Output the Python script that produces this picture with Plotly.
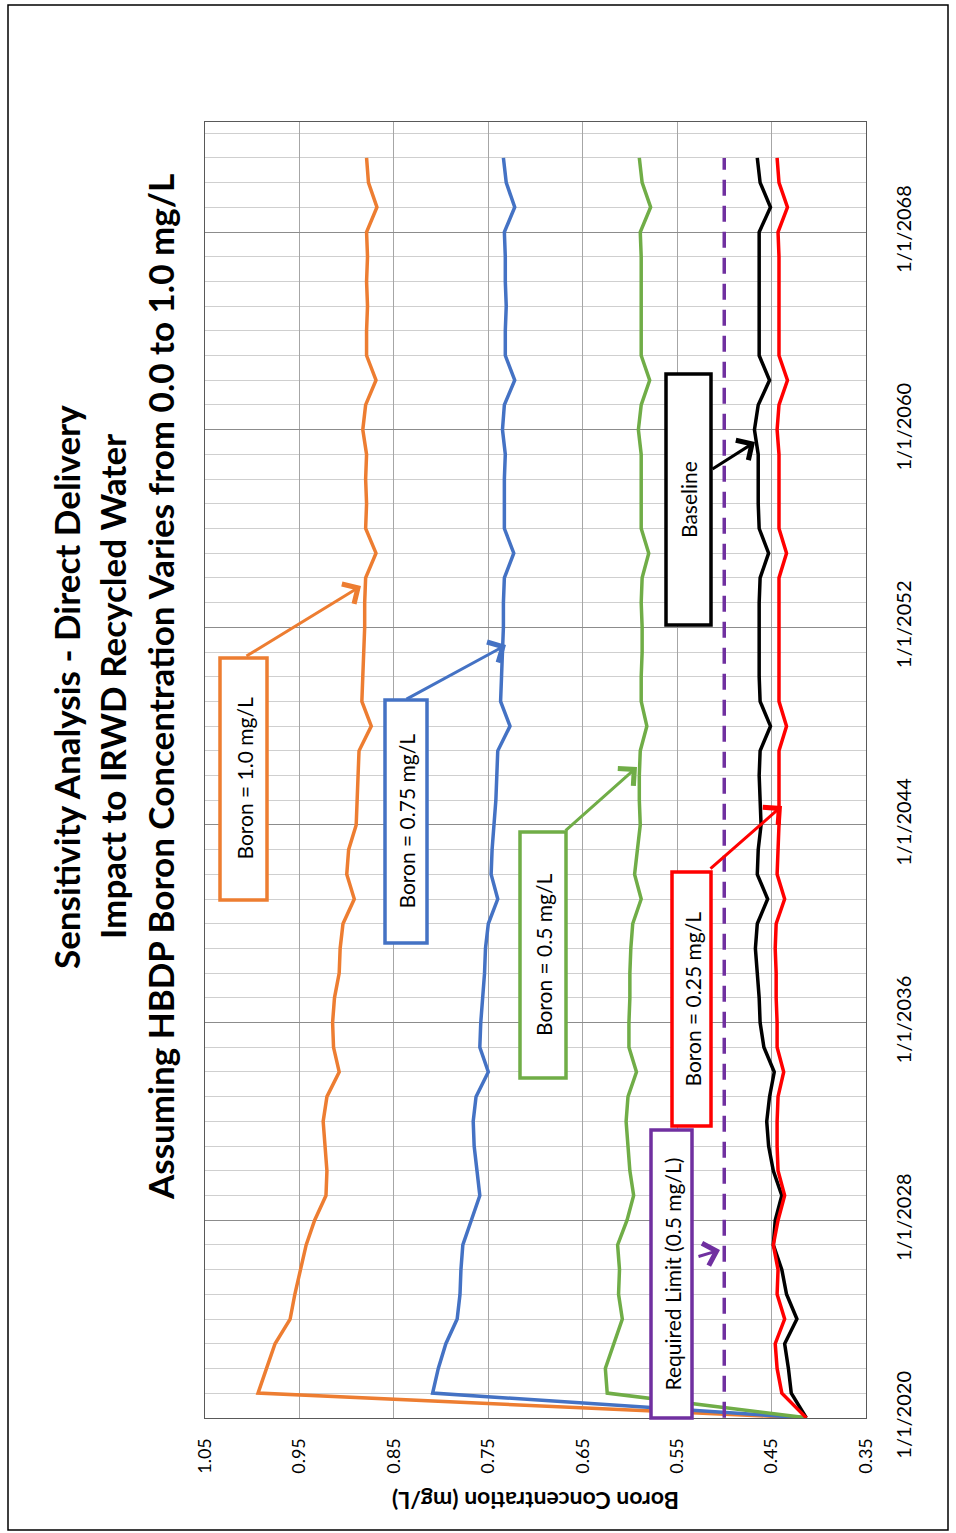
import plotly.graph_objects as go

# ---------------- data ----------------
years = list(range(2020, 2072))
dates = [f"{y}-01-01" for y in years]

boron_100 = [0.413, 0.994, 0.985, 0.976, 0.960, 0.955, 0.949, 0.943, 0.934, 0.922,
             0.921, 0.923, 0.925, 0.921, 0.908, 0.914, 0.915, 0.913, 0.908, 0.907,
             0.904, 0.892, 0.900, 0.898, 0.890, 0.889, 0.888, 0.887, 0.874, 0.884,
             0.883, 0.882, 0.881, 0.881, 0.880, 0.869, 0.880, 0.879, 0.880, 0.879,
             0.883, 0.880, 0.869, 0.879, 0.879, 0.878, 0.879, 0.878, 0.879, 0.868,
             0.877, 0.879]
boron_075 = [0.413, 0.809, 0.803, 0.795, 0.783, 0.780, 0.779, 0.777, 0.768, 0.759,
             0.762, 0.765, 0.766, 0.763, 0.750, 0.759, 0.758, 0.756, 0.754, 0.753,
             0.750, 0.740, 0.747, 0.746, 0.744, 0.742, 0.741, 0.740, 0.727, 0.737,
             0.736, 0.735, 0.734, 0.734, 0.733, 0.723, 0.733, 0.733, 0.733, 0.732,
             0.735, 0.733, 0.722, 0.732, 0.732, 0.731, 0.732, 0.732, 0.733, 0.722,
             0.731, 0.734]
boron_050 = [0.413, 0.624, 0.626, 0.617, 0.608, 0.612, 0.611, 0.613, 0.603, 0.596,
             0.600, 0.602, 0.604, 0.602, 0.593, 0.601, 0.601, 0.600, 0.600, 0.599,
             0.597, 0.588, 0.595, 0.592, 0.589, 0.590, 0.590, 0.589, 0.582, 0.588,
             0.588, 0.587, 0.587, 0.588, 0.587, 0.580, 0.588, 0.588, 0.588, 0.588,
             0.591, 0.588, 0.579, 0.588, 0.588, 0.588, 0.588, 0.588, 0.589, 0.578,
             0.587, 0.590]
baseline = [0.413, 0.429, 0.432, 0.436, 0.423, 0.434, 0.439, 0.448, 0.446, 0.439,
            0.448, 0.453, 0.455, 0.452, 0.447, 0.458, 0.462, 0.463, 0.465, 0.467,
            0.465, 0.454, 0.465, 0.464, 0.461, 0.462, 0.463, 0.462, 0.451, 0.462,
            0.463, 0.463, 0.463, 0.463, 0.462, 0.453, 0.463, 0.464, 0.464, 0.464,
            0.468, 0.464, 0.452, 0.463, 0.463, 0.463, 0.463, 0.463, 0.463, 0.451,
            0.462, 0.465]
boron_025 = [0.413, 0.439, 0.444, 0.446, 0.436, 0.444, 0.443, 0.448, 0.443, 0.436,
             0.443, 0.444, 0.444, 0.443, 0.437, 0.444, 0.444, 0.445, 0.445, 0.446,
             0.445, 0.436, 0.444, 0.443, 0.442, 0.442, 0.442, 0.442, 0.434, 0.442,
             0.442, 0.442, 0.442, 0.442, 0.442, 0.434, 0.442, 0.442, 0.442, 0.442,
             0.444, 0.442, 0.433, 0.442, 0.442, 0.442, 0.442, 0.442, 0.443, 0.433,
             0.442, 0.444]
limit_dates = ["2020-01-01", "2071-01-01"]
limit_values = [0.5, 0.5]

series_names = ["Boron = 1.0 mg/L", "Boron = 0.75 mg/L", "Boron = 0.5 mg/L",
                "Baseline", "Boron = 0.25 mg/L"]
series_values = [boron_100, boron_075, boron_050, baseline, boron_025]
series_colors = ["#ED7D31", "#4472C4", "#70AD47", "#000000", "#FF0000"]

title_lines = ["Sensitivity Analysis - Direct Delivery",
               "Impact to IRWD Recycled Water",
               "Assuming HBDP Boron Concentration Varies from 0.0 to 1.0 mg/L"]
y_title = "Boron Concentration (mg/L)"

# ---------------- layout helpers (pixel -> paper) ----------------
W, H = 956, 1533
L, R, T, B = 205, 866, 122, 1418


def px(x):
    return (x - L) / (R - L)


def py(y):
    return (B - y) / (B - T)


FONT = "Lato"

fig = go.Figure()
for name, vals, col in zip(series_names, series_values, series_colors):
    fig.add_trace(go.Scatter(x=vals, y=dates, mode="lines", name=name,
                             line=dict(color=col, width=3.5)))
fig.add_trace(go.Scatter(x=limit_values, y=limit_dates, mode="lines",
                         name="Required Limit",
                         line=dict(color="#7030A0", width=3.5, dash="16px,10px")))

shapes = []
annotations = []

# outer frame
shapes.append(dict(type="rect", xref="paper", yref="paper",
                   x0=px(8), x1=px(948), y0=py(1530), y1=py(5),
                   line=dict(color="#000000", width=1.5), layer="below"))

# label boxes: (text, color, x0, x1, y0, y1)
boxes = [
    ("Boron = 1.0 mg/L", "#ED7D31", 220, 267, 658, 900),
    ("Boron = 0.75 mg/L", "#4472C4", 385, 427, 700, 943),
    ("Boron = 0.5 mg/L", "#70AD47", 520, 566, 832, 1078),
    ("Boron = 0.25 mg/L", "#FF0000", 672, 711, 872, 1126),
    ("Required Limit (0.5 mg/L)", "#7030A0", 651, 692, 1130, 1418),
    ("Baseline", "#000000", 666, 711, 374, 625),
]
for text, col, x0, x1, y0, y1 in boxes:
    shapes.append(dict(type="rect", xref="paper", yref="paper",
                       x0=px(x0), x1=px(x1), y0=py(y1), y1=py(y0),
                       line=dict(color=col, width=3.5), fillcolor="white",
                       layer="above"))
    annotations.append(dict(text=text, xref="paper", yref="paper",
                            x=px((x0 + x1) / 2), y=py((y0 + y1) / 2),
                            showarrow=False, textangle=-90,
                            font=dict(family=FONT, size=21, color="#000000"),
                            xanchor="center", yanchor="middle"))

# arrows: (tail_x, tail_y, tip_x, tip_y, color)
arrows = [
    (245, 657, 361, 586, "#ED7D31"),
    (405, 700, 506, 645, "#4472C4"),
    (564, 832, 637, 767, "#70AD47"),
    (709, 870, 782, 806, "#FF0000"),
    (711, 470, 755, 442, "#000000"),
    (697, 1257, 720, 1250, "#7030A0"),
]
for tx, ty, hx, hy, col in arrows:
    annotations.append(dict(text="", xref="paper", yref="paper",
                            x=px(hx), y=py(hy), ax=tx - hx, ay=ty - hy,
                            axref="pixel", ayref="pixel",
                            showarrow=True, arrowhead=4, arrowsize=1.5,
                            arrowwidth=3, arrowcolor=col, standoff=0))

# chart title (three rotated lines)
for line, cx in zip(title_lines, [66, 112, 160]):
    annotations.append(dict(text=f"<b>{line}</b>", xref="paper", yref="paper",
                            x=px(cx), y=py(687), showarrow=False, textangle=-90,
                            font=dict(family=FONT, size=35, color="#000000"),
                            xanchor="center", yanchor="middle"))

# value axis title (upside down)
annotations.append(dict(text=f"<b>{y_title}</b>", xref="paper", yref="paper",
                        x=px(536), y=py(1501), showarrow=False, textangle=180,
                        font=dict(family=FONT, size=23, color="#000000"),
                        xanchor="center", yanchor="middle"))

fig.update_layout(
    width=W, height=H,
    margin=dict(l=L, r=W - R, t=T, b=H - B),
    paper_bgcolor="white", plot_bgcolor="white",
    showlegend=False,
    shapes=shapes, annotations=annotations,
    font=dict(family=FONT, size=17, color="#000000"),
    xaxis=dict(range=[1.0502, 0.3498], tick0=0.05, dtick=0.1, tickformat=".2f",
               tickangle=-90, showgrid=True, gridcolor="#A6A6A6", gridwidth=1,
               zeroline=False, showline=True, mirror=True, linecolor="#595959",
               linewidth=1, ticks="", ticklabelstandoff=12,
               tickfont=dict(family=FONT, size=18, color="#000000")),
    yaxis=dict(type="date", range=["2019-12-30", "2072-06-15"], side="right",
               tick0="2020-01-01", dtick="M96", tickformat="%-m/%-d/%Y",
               tickangle=-90, showgrid=True, gridcolor="#8C8C8C", gridwidth=1,
               minor=dict(dtick="M12", tick0="2020-01-01", showgrid=True,
                          gridcolor="#CFCFCF", gridwidth=1),
               zeroline=False, showline=True, mirror=True, linecolor="#595959",
               linewidth=1, ticks="", ticklabelstandoff=20,
               tickfont=dict(family=FONT, size=20, color="#000000")),
)

fig.write_html("out.html", config={"displayModeBar": False},
               post_script="document.body.style.margin='0';")
